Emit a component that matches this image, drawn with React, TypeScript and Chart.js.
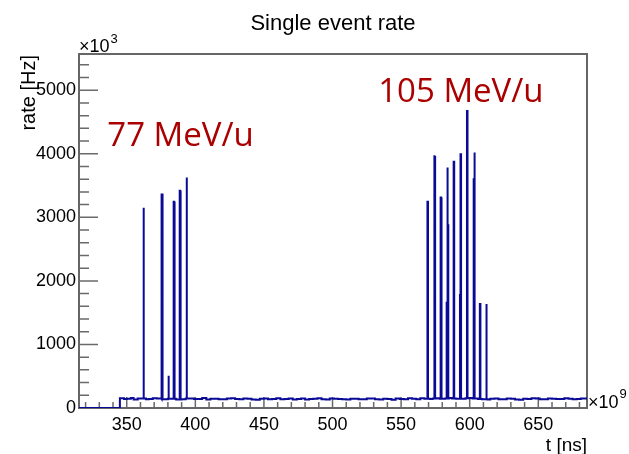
import React, { useEffect, useRef } from "react";
import { Chart, registerables } from "chart.js";

Chart.register(...registerables);

// Axis ranges (t in ns ×10^9, rate in Hz ×10^3)
const X_MIN = 315.2;
const X_MAX = 685.5;
const Y_MAX = 5570;

const xTickLabels = [350, 400, 450, 500, 550, 600, 650];
const yTickLabels = [0, 1000, 2000, 3000, 4000, 5000];

// Background level: start time of each step and its rate
const baseT = [
  315,
  345, 348, 350, 353, 355, 358, 361, 364, 366, 369, 372, 375, 378, 380, 383, 386, 390, 393, 396, 399,
  402, 405, 408, 411, 414, 417, 420, 423, 426, 429, 432, 435, 438, 441, 444, 447, 450, 453, 456, 459,
  462, 465, 468, 471, 474, 477, 480, 483, 486, 489, 492, 495, 498, 501, 504, 507, 510, 513, 516, 519,
  522, 525, 528, 531, 534, 537, 540, 543, 546, 549, 552, 555, 558, 561, 564, 567, 571, 573, 576, 578,
  582, 585, 587, 590, 595, 597, 600, 602, 606, 609, 613, 615, 618, 621, 624, 627, 630, 633, 636, 639,
  642, 645, 648, 651, 654, 657, 660, 663, 666, 669, 672, 675, 678, 681,
];
const baseRate = [
  0,
  152, 141, 146, 158, 135, 149, 148, 137, 142, 155, 150, 139, 138, 147, 145, 133, 136, 150, 150, 141,
  141, 156, 133, 144, 147, 136, 139, 151, 152, 140, 137, 148, 144, 132, 131, 146, 149, 138, 140, 153,
  136, 142, 151, 135, 143, 149, 134, 141, 146, 155, 138, 133, 150, 144, 141, 136, 132, 147, 145, 139,
  139, 150, 148, 137, 135, 146, 143, 131, 150, 142, 137, 152, 146, 138, 152, 144, 140, 149, 155, 147,
  148, 158, 150, 146, 145, 154, 156, 148, 140, 137, 133, 145, 148, 139, 138, 150, 145, 134, 130, 144,
  142, 153, 150, 139, 137, 148, 146, 141, 140, 152, 144, 136, 141, 149,
];

// Beam spikes: bin start time and rate
const spikeT = [
  362.1, 375.3, 375.7, 380.3, 384.2, 384.6, 388.6, 389.0, 393.5,
  569.2, 574.0, 574.4, 578.8, 579.2, 583.2, 583.6, 584.0, 588.3,
  592.9, 593.3, 598.0, 602.9, 603.3, 607.4, 612.0,
];
const spikeRate = [
  3150, 3375, 3360, 508, 3245, 3008, 3417, 3077, 3627,
  3245, 3978, 3950, 3313, 3290, 1656, 3785, 2877, 3873,
  1777, 3994, 4675, 3600, 4020, 1635, 1635,
];
const SPIKE_W = 0.4;

const annoText = ["77 MeV/u", "105 MeV/u"];
const annoT = [335.8, 533.3];
const annoRate = [4120, 4816];

const FONT = '"Liberation Sans", Arial, Helvetica, sans-serif';

function baseAt(t: number) {
  let v = baseRate[0];
  for (let i = 0; i < baseT.length; i++) if (baseT[i] <= t + 1e-9) v = baseRate[i];
  return v;
}

function buildPoints() {
  const segs: { x: number; y: number }[] = baseT.map((t, i) => ({ x: t, y: baseRate[i] }));
  spikeT.forEach((t, i) => {
    segs.push({ x: t, y: spikeRate[i] });
    const end = t + SPIKE_W;
    const hasNext = spikeT.some((s) => Math.abs(s - end) < 0.01);
    if (!hasNext) segs.push({ x: end, y: baseAt(end) });
  });
  segs.sort((a, b) => a.x - b.x);
  const pts: { x: number; y: number }[] = [];
  for (let i = 0; i < segs.length; i++) {
    const x1 = i + 1 < segs.length ? segs[i + 1].x : X_MAX;
    pts.push({ x: segs[i].x, y: segs[i].y });
    pts.push({ x: x1, y: segs[i].y });
  }
  return pts;
}

const decor = {
  id: "decor",
  beforeDatasetsDraw(chart: any) {
    const { ctx, chartArea: a, scales } = chart;
    const x = scales.x;
    const y = scales.y;
    ctx.save();
    ctx.strokeStyle = "#6a6a6a";
    ctx.lineWidth = 1.5;
    ctx.beginPath();
    for (let k = 0; k * 200 <= Y_MAX; k++) {
      const v = k * 200;
      const len = v % 1000 === 0 ? 19 : 10;
      const py = y.getPixelForValue(v);
      ctx.moveTo(a.left, py);
      ctx.lineTo(a.left + len, py);
    }
    for (let k = Math.ceil(X_MIN / 10); k * 10 <= X_MAX; k++) {
      const v = k * 10;
      const len = v % 50 === 0 ? 11 : 6;
      const px = x.getPixelForValue(v);
      ctx.moveTo(px, a.bottom);
      ctx.lineTo(px, a.bottom - len);
    }
    ctx.stroke();
    ctx.lineWidth = 2;
    ctx.strokeStyle = "#666666";
    ctx.strokeRect(a.left, a.top, a.right - a.left, a.bottom - a.top);
    ctx.restore();
  },
  afterDraw(chart: any) {
    const { ctx, chartArea: a, scales } = chart;
    const x = scales.x;
    const y = scales.y;
    ctx.save();
    ctx.fillStyle = "#000";
    // title
    ctx.font = `22px ${FONT}`;
    ctx.textAlign = "center";
    ctx.textBaseline = "alphabetic";
    ctx.fillText("Single event rate", 333, 30);
    // multipliers
    ctx.textAlign = "left";
    ctx.font = `18px ${FONT}`;
    ctx.fillText("\u00d710", a.left, a.top - 2);
    let w = ctx.measureText("\u00d710").width;
    ctx.font = `13px ${FONT}`;
    ctx.fillText("3", a.left + w + 1, a.top - 11);
    ctx.font = `18px ${FONT}`;
    ctx.fillText("\u00d710", a.right + 1, a.bottom);
    w = ctx.measureText("\u00d710").width;
    ctx.font = `13px ${FONT}`;
    ctx.fillText("9", a.right + 1 + w + 1, a.bottom - 10);
    // axis titles
    ctx.font = `19px ${FONT}`;
    ctx.textAlign = "right";
    ctx.fillText("t [ns]", a.right, 451);
    ctx.save();
    ctx.translate(35, a.top + 1);
    ctx.rotate(-Math.PI / 2);
    ctx.font = `20px ${FONT}`;
    ctx.textAlign = "right";
    ctx.fillText("rate [Hz]", 0, 0);
    ctx.restore();
    // annotations
    ctx.fillStyle = "#aa0000";
    ctx.font = `33px "Open Sans", "Noto Sans", sans-serif`;
    ctx.textAlign = "left";
    annoText.forEach((s, i) => {
      ctx.fillText(s, x.getPixelForValue(annoT[i]), y.getPixelForValue(annoRate[i]));
    });
    ctx.restore();
  },
};

export default function App() {
  const ref = useRef<HTMLCanvasElement>(null);
  useEffect(() => {
    const chart = new Chart(ref.current as HTMLCanvasElement, {
      type: "line",
      data: {
        datasets: [
          {
            data: buildPoints(),
            borderColor: "#0a0a96",
            borderWidth: 2,
            pointRadius: 0,
            fill: false,
            tension: 0,
          },
        ],
      },
      options: {
        animation: false,
        responsive: false,
        maintainAspectRatio: false,
        layout: { padding: { top: 54, right: 42, left: 0, bottom: 0 } },
        plugins: {
          legend: { display: false },
          tooltip: { enabled: false },
          title: { display: false },
        },
        scales: {
          x: {
            type: "linear",
            min: X_MIN,
            max: X_MAX,
            grid: { display: false, drawTicks: false },
            border: { display: false },
            afterBuildTicks: (s: any) => {
              s.ticks = xTickLabels.map((v) => ({ value: v }));
            },
            afterFit: (s: any) => {
              s.height = 46;
            },
            ticks: {
              font: { family: FONT, size: 18 },
              color: "#000",
              padding: 6,
              maxRotation: 0,
              autoSkip: false,
              callback: (v: any) => String(v),
            },
          },
          y: {
            type: "linear",
            min: 0,
            max: Y_MAX,
            grid: { display: false, drawTicks: false },
            border: { display: false },
            afterBuildTicks: (s: any) => {
              s.ticks = yTickLabels.map((v) => ({ value: v }));
            },
            afterFit: (s: any) => {
              s.width = 79;
            },
            ticks: {
              font: { family: FONT, size: 18 },
              color: "#000",
              padding: 3,
              callback: (v: any) => String(v),
            },
          },
        },
      },
      plugins: [decor],
    });
    return () => chart.destroy();
  }, []);
  return (
    <div style={{ position: "absolute", left: 0, top: 0, width: 629, height: 454, background: "#fff" }}>
      <canvas ref={ref} width={629} height={454} style={{ display: "block", width: 629, height: 454 }} />
    </div>
  );
}
